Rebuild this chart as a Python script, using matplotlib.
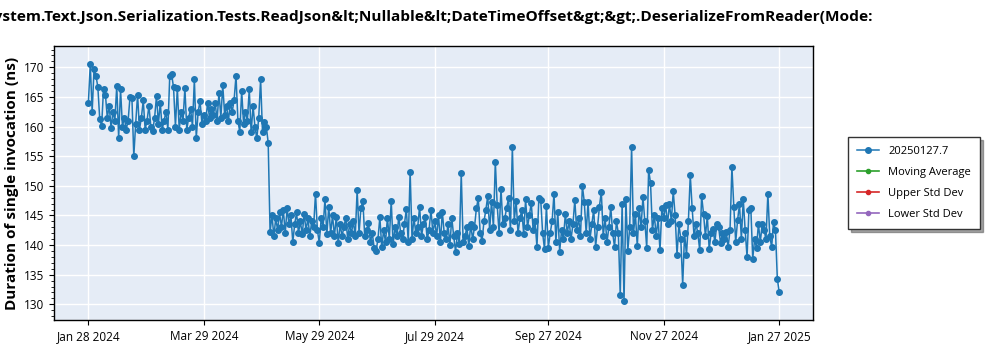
import numpy as np
import pandas as pd
import matplotlib
matplotlib.use("Agg")
import matplotlib.pyplot as plt
from matplotlib.ticker import MultipleLocator

plt.rcParams["font.family"] = ["Open Sans", "DejaVu Sans"]

TITLE = ("System.Text.Json.Serialization.Tests.ReadJson&lt;Nullable&lt;DateTimeOffset&gt;&gt;"
         ".DeserializeFromReader(Mode:")
START = "2024-01-28"

# daily durations (ns), one run per day from Jan 28 2024
jan_feb = [164, 170.5, 162.5, 169.7, 168.6, 166.7, 161.3, 160.1, 166.3, 165.4,
           161.5, 163.5, 159.8, 162.5, 161, 166.9, 158.1, 166.3, 160, 161.5,
           159.5]
feb_mar = [161, 165, 164.9, 155, 160.5, 165.4, 159.5, 161.5, 164.4, 159.5,
           161, 163.5, 160, 159.3, 161.5, 165.2, 160.5, 164, 159.5, 161,
           162.5, 159.5, 168.6, 168.8, 166.6, 160, 166.5, 159.5, 162.5, 161,
           166.5, 159.5, 161.5, 163, 160, 168, 158.1, 162.5, 164.3, 160.5,
           162, 161, 164]
apr = [161.5, 163, 162, 164, 161, 165.7, 161.5, 167, 162, 163.5,
       161, 164, 162.5, 164.5, 168.6, 161, 159.1, 166, 160.5, 162.5,
       161, 166.3, 159, 163.5, 160, 158, 161.5, 168, 159, 160.8,
       160, 157.3]
may_jun = [142.2, 145, 141.5, 144.5, 142.5, 145.5, 143, 146, 142, 146.2,
           143.5, 145, 140.5, 143.5, 145.5, 142, 144, 141.8, 145.3, 142.5,
           144.5, 141.5, 144, 143, 148.7, 142.5, 140.4, 144.5, 143, 147.7,
           141.8, 146.5, 142, 145, 141.5]
jun_aug = [144.8, 140.3, 143.5, 141.5, 143, 144.6, 141, 143.5, 142, 144,
           141.5, 149.3, 142, 146.2, 147.5, 141.5, 142.5, 143.7, 140.5, 142,
           139.5, 139, 141, 144.7, 139.6, 142.5, 140.5, 144.6, 141, 147.5,
           140.1, 143, 141.5, 144.8, 142, 141, 143.5, 146.1, 140.5, 152.4,
           141, 144.6, 142, 143, 146.5, 141.5, 143.5, 144.8, 141, 142.5,
           146, 142, 144, 141.5, 145, 140.5, 145.6, 142, 141, 143.5,
           140, 144.6, 141.5, 138.9, 142, 140.2, 152.1, 140.5]
aug_oct = [141.5, 143, 139.8, 143.5, 141, 143, 146.2, 147.9, 142, 140.7,
           144, 145.9, 148.3, 142.5, 147.3, 143, 154.1, 146.7, 142, 149.5,
           143.5, 144.5, 146.3, 147.9, 142.5, 156.6, 144, 147.4, 142, 144.5,
           145.9, 141.8, 147.7, 143, 145, 147.1, 142.5, 144, 139.7, 147.9,
           147.6, 142, 139.3, 146.6, 139.5, 142, 144, 148.7, 140.5, 145.6,
           138.9, 142.5, 141, 145.3, 142, 144, 141, 143.5, 147.6, 142.5,
           144.5, 141.5, 150.0, 147.3, 142]
oct_dec = [147.3, 141, 143.5, 146, 139.7, 143, 146.5, 149.0, 141.5, 144.5,
           140.5, 143, 146.4, 142, 139.7, 144, 142, 131.5, 147.0, 130.5,
           147.7, 139, 143, 156.6, 142, 145.3, 139.8, 146.2, 143, 148.1,
           144, 139.5, 152.7, 150.5, 142.5, 145.1, 141.5, 144.5, 139.1, 146.3,
           144.5, 146.8, 143.5, 147.0, 144, 149.1, 145, 138.3, 143.5, 141,
           133.3, 142, 138.3, 144, 151.8, 146.2, 141.5, 143.6, 142, 139.1,
           148.3, 145.3, 141.5, 144.9, 139.3, 142, 142.7]
dec_jan = [140.5, 143.5, 143.0, 140.3, 142, 141, 142.2, 139.7, 142.5, 153.2,
           146.5, 140.5, 144.2, 146.9, 141, 147.7, 142.5, 138, 145.9, 146.2,
           137.7, 141, 139.5, 143.6, 140.5, 143.5, 142.5, 141, 148.7, 141.5,
           139.7, 143.9, 142.5, 134.3, 132.0]

durations = jan_feb + feb_mar + apr + may_jun + jun_aug + aug_oct + oct_dec + dec_jan
dates = pd.date_range(START, periods=len(durations), freq="D")

tick_dates = pd.to_datetime(["2024-01-28", "2024-03-29", "2024-05-29", "2024-07-29",
                             "2024-09-27", "2024-11-27", "2025-01-27"])
tick_labels = ["Jan 28 2024", "Mar 29 2024", "May 29 2024", "Jul 29 2024",
               "Sep 27 2024", "Nov 27 2024", "Jan 27 2025"]

fig = plt.figure(figsize=(10, 3.5), dpi=100)
ax = fig.add_axes([0.0543, 0.0857, 0.759, 0.7829])
ax.set_facecolor("#E5ECF6")

ax.plot(dates, durations, color="#1f77b4", lw=1.1, marker="o", ms=4,
        label="20250127.7", zorder=3)
ax.plot([], [], color="#2ca02c", lw=1.2, marker="o", ms=3, label="Moving Average")
ax.plot([], [], color="#d62728", lw=1.2, marker="o", ms=3, label="Upper Std Dev")
ax.plot([], [], color="#9467bd", lw=1.2, marker="o", ms=3, label="Lower Std Dev")

ax.set_xlim(pd.Timestamp("2024-01-10"), pd.Timestamp("2025-02-14"))
ax.set_ylim(127.35, 173.6)
ax.set_xticks(tick_dates)
ax.set_xticklabels(tick_labels)
ax.yaxis.set_major_locator(MultipleLocator(5))
ax.yaxis.set_minor_locator(MultipleLocator(1))
ax.tick_params(axis="both", labelsize=8.5, color="black")
ax.tick_params(axis="y", which="minor", length=2)
ax.grid(True, color="white", lw=1)
ax.set_axisbelow(True)
for s in ax.spines.values():
    s.set_color("black")
    s.set_linewidth(1)

ax.set_ylabel("Duration of single invocation (ns)", fontsize=11, fontweight="bold",
              labelpad=4)
# long benchmark name runs past the left edge of the canvas
fig.text(0.873, 0.951, TITLE, ha="right", va="center", fontsize=11.07, fontweight="bold")

leg = ax.legend(loc="upper left", bbox_to_anchor=(1.046, 0.668), fontsize=8,
                frameon=True, fancybox=False, shadow=True, edgecolor="#333333",
                handlelength=2.0, borderpad=0.8, labelspacing=0.9,
                borderaxespad=0)
leg.get_frame().set_linewidth(1)

fig.savefig("out.png", dpi=100)
